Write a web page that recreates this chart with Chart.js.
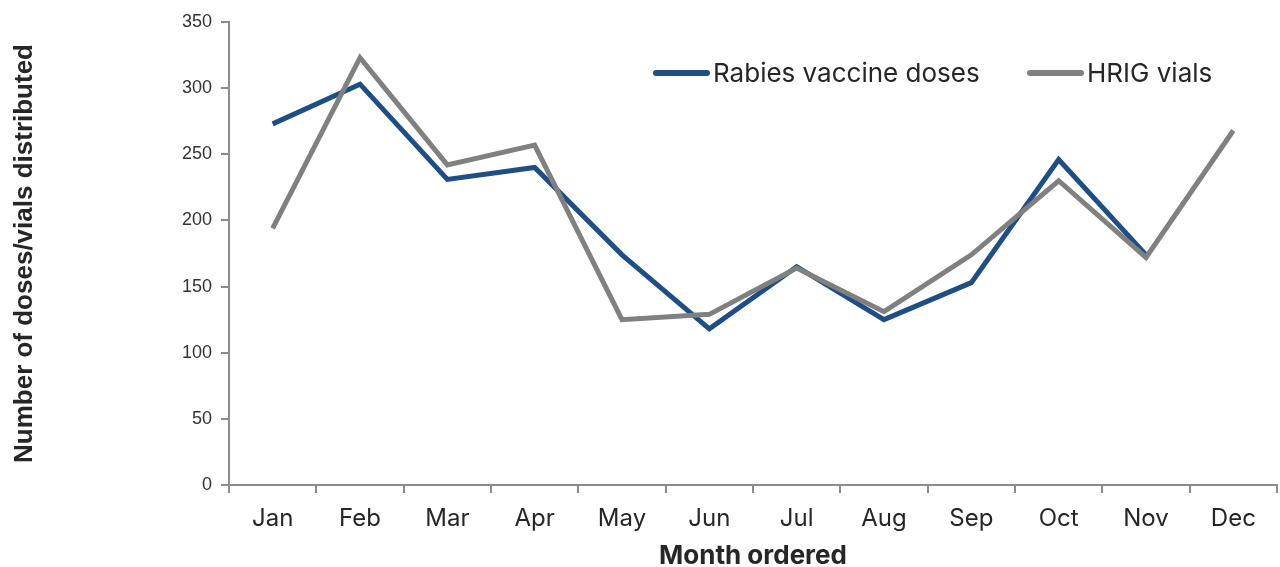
<!DOCTYPE html>
<html>
<head>
<meta charset="utf-8">
<title>Rabies biologics distributed by month</title>
<script src="https://cdn.jsdelivr.net/npm/chart.js@4"></script>
<style>
  html, body { margin: 0; padding: 0; background: #fff; }
  #wrap { width: 1280px; height: 567px; }
</style>
</head>
<body>
<div id="wrap"><canvas id="distChart" width="1280" height="567"></canvas></div>
<script>
const months = ["Jan", "Feb", "Mar", "Apr", "May", "Jun", "Jul", "Aug", "Sep", "Oct", "Nov", "Dec"];
const vaccineDoses = [273, 303, 231, 240, 174, 118, 165, 125, 153, 246, 174, null];
const hrigVials = [194, 323, 242, 257, 125, 129, 164, 131, 174, 230, 172, 268];
const yTicks = [0, 50, 100, 150, 200, 250, 300, 350];

const blue = "#1F4E82";
const grey = "#808080";
const axisGrey = "#8c8c8c";

// legend drawn inside the plot, top right
const innerLegend = {
  id: "innerLegend",
  afterDatasetsDraw(chart) {
    const ctx = chart.ctx;
    const spots = [653, 1027];
    const y = 73;
    ctx.save();
    ctx.font = "26px Inter";
    ctx.textBaseline = "middle";
    ctx.lineCap = "round";
    chart.data.datasets.forEach((ds, i) => {
      const x = spots[i];
      ctx.strokeStyle = ds.borderColor;
      ctx.lineWidth = 6;
      ctx.beginPath();
      ctx.moveTo(x + 3, y);
      ctx.lineTo(x + 54, y);
      ctx.stroke();
      ctx.fillStyle = "#262626";
      ctx.fillText(ds.label, x + 60, y + 1);
    });
    ctx.restore();
  },
};

const ctx = document.getElementById("distChart").getContext("2d");
const distChart = new Chart(ctx, {
  type: "line",
  data: {
    labels: months,
    datasets: [
      {
        label: "Rabies vaccine doses",
        data: vaccineDoses,
        borderColor: blue,
        backgroundColor: blue,
        borderWidth: 5,
        pointRadius: 0,
        tension: 0,
        order: 2,
      },
      {
        label: "HRIG vials",
        data: hrigVials,
        borderColor: grey,
        backgroundColor: grey,
        borderWidth: 5,
        pointRadius: 0,
        tension: 0,
        order: 1, // grey line sits on top
      },
    ],
  },
  options: {
    responsive: false,
    animation: false,
    layout: {
      padding: { left: 0, right: 3, top: 22, bottom: 0 },
    },
    plugins: {
      legend: { display: false },
      tooltip: { enabled: false },
    },
    scales: {
      x: {
        offset: true,
        grid: {
          offset: true,
          drawOnChartArea: false,
          drawTicks: true,
          tickLength: 8,
          color: axisGrey,
          lineWidth: 2,
        },
        border: { color: axisGrey, width: 2 },
        ticks: {
          color: "#262626",
          font: { family: "Inter", size: 24 },
          padding: 11,
          maxRotation: 0,
        },
        title: {
          display: true,
          text: "Month ordered",
          color: "#262626",
          font: { family: "Inter", size: 26, weight: "bold", lineHeight: 1 },
          padding: { top: 0, bottom: -2 },
        },
        afterFit(scale) {
          scale.height = 82;
        },
      },
      y: {
        min: 0,
        max: 350,
        afterBuildTicks(scale) {
          scale.ticks = yTicks.map((v) => ({ value: v }));
        },
        grid: {
          drawOnChartArea: false,
          drawTicks: true,
          tickLength: 8,
          color: axisGrey,
          lineWidth: 2,
        },
        border: { color: axisGrey, width: 2 },
        ticks: {
          color: "#333333",
          font: { family: "Liberation Sans", size: 18 },
          padding: 9,
        },
        title: {
          display: true,
          text: "Number of doses/vials distributed",
          color: "#262626",
          font: { family: "Liberation Sans", size: 26, weight: "bold" },
          padding: { top: 9, bottom: 0 },
        },
        afterFit(scale) {
          scale.width = 229;
        },
      },
    },
  },
  plugins: [innerLegend],
});
</script>
</body>
</html>
